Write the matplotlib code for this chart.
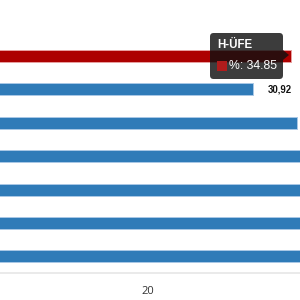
import matplotlib
matplotlib.use("Agg")
import matplotlib.pyplot as plt
from matplotlib.patches import FancyBboxPatch, Polygon, Rectangle

# data (only the visible part of the chart; bars past 35.8 are clipped)
categories = ["H-ÜFE", "b", "c", "d", "e", "f", "g"]
values = [34.85, 30.92, 35.5, 37.0, 37.0, 37.0, 37.0]
highlight = "H-ÜFE"
labelled = ["b"]  # only this value label falls inside the visible window
x_ticks = [0, 20, 40]

blue = "#2f7bb8"
red = "#ad0000"

fig = plt.figure(figsize=(3, 3), dpi=100)
ax = fig.add_axes([0, 0.09, 1, 0.91])

ys = list(range(len(categories)))
colors = [red if c == highlight else blue for c in categories]
edges = ["#e8a0a0" if c == highlight else "#a9c8e6" for c in categories]
ax.barh(ys, values, height=0.36, color=colors, edgecolor=edges, linewidth=0.7)

for y, c, v in zip(ys, categories, values):
    if c in labelled:
        ax.annotate(f"{v:.2f}".replace(".", ","), (v, y), xytext=(11, 0),
                    textcoords="offset points", va="center", ha="left",
                    fontsize=6.9, fontweight="bold", color="#111111",
                    family="Liberation Sans")

ax.set_xticks(x_ticks)
ax.set_xlim(4.607, 35.81)
ax.set_ylim(6.5, -1.68)
ax.set_yticks([])
ax.tick_params(axis="x", length=0, labelsize=8, labelcolor="#333333", pad=9)
for lbl in ax.get_xticklabels():
    lbl.set_family("Open Sans")
for s in ["top", "right", "left"]:
    ax.spines[s].set_visible(False)
ax.spines["bottom"].set_color("#e6e6e6")
ax.spines["bottom"].set_linewidth(1.2)

# tooltip (figure pixel coords, y from top)
def fx(px):
    return px / 300

def fy(py):
    return 1 - py / 300

box = FancyBboxPatch((fx(210), fy(79)), 73 / 300, 46 / 300,
                     boxstyle="round,pad=0.0,rounding_size=0.012",
                     transform=fig.transFigure, facecolor="#111111",
                     alpha=0.82, edgecolor="none")
fig.patches.append(box)
arrow = Polygon([(fx(283), fy(50)), (fx(289), fy(55)), (fx(283), fy(60))],
                closed=True, transform=fig.transFigure, facecolor="#111111",
                alpha=0.82, edgecolor="none")
fig.patches.append(arrow)
fig.text(fx(217), fy(45), highlight, color="white", fontsize=8.3,
         fontweight="bold", va="center", ha="left", family="Liberation Sans")
fig.patches.append(Rectangle((fx(217), fy(71)), 10 / 300, 10 / 300,
                             transform=fig.transFigure, facecolor="#b01c1c",
                             edgecolor="none"))
fig.text(fx(229), fy(66), f"%: {values[0]}", color="white", fontsize=8.8,
         va="center", ha="left", family="Liberation Sans")

fig.savefig("out.png", dpi=100)
